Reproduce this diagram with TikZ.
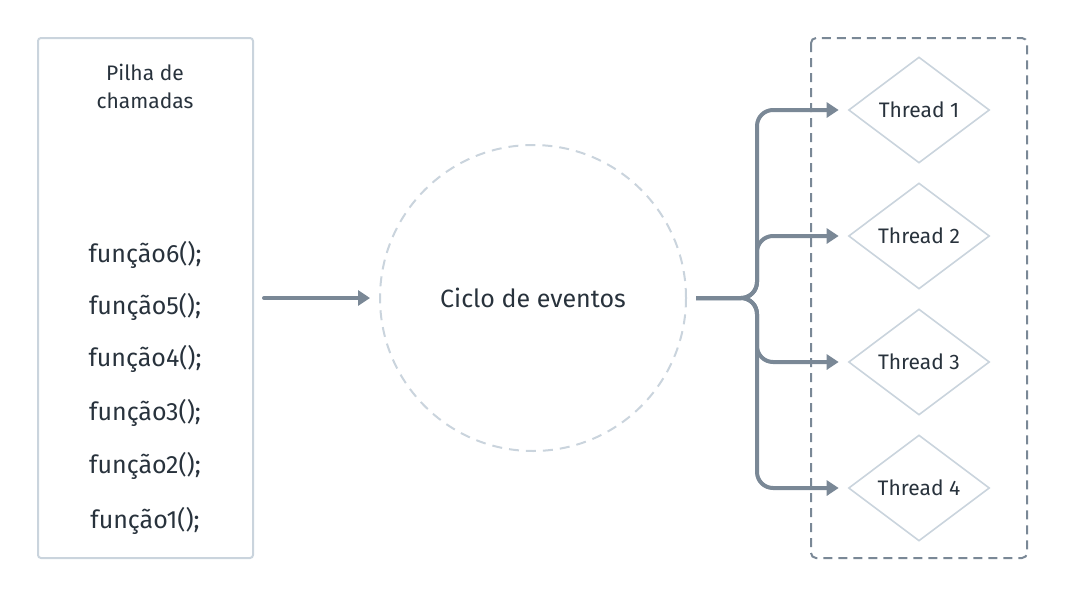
\documentclass[tikz,border=0pt]{standalone}
\usepackage{fontspec}
\setmainfont{Fira Sans}
\usetikzlibrary{shapes.geometric,arrows.meta}

\definecolor{seta}{RGB}{122,136,150}
\definecolor{claro}{RGB}{202,212,221}
\definecolor{texto}{RGB}{40,50,60}

\begin{document}
\begin{tikzpicture}[x=1pt, y=-1pt, every node/.style={text=texto},
    ramo/.style={draw=seta, line width=4pt, rounded corners=16pt, -{Triangle[length=12pt,width=15pt]}, shorten <=9pt, shorten >=9pt},
    losango/.style={diamond, draw=claro, line width=1.6pt, minimum width=141pt, minimum height=106pt, inner sep=0pt, font=\fontsize{21}{24}\selectfont},
    funcao/.style={font=\fontsize{25}{28}\selectfont}]

        \useasboundingbox (0,0) rectangle (1065,597);

        % Pilha de chamadas
        \draw[claro, line width=2pt, rounded corners=3pt] (38,38) rectangle (253,558);
        \node[align=center, font=\fontsize{21}{28}\selectfont] (pilha) at (145,86) {Pilha de\\chamadas};
        \node[funcao] (f6) at (145,255) {função6();};
        \node[funcao] (f5) at (145,307) {função5();};
        \node[funcao] (f4) at (145,359) {função4();};
        \node[funcao] (f3) at (145,413) {função3();};
        \node[funcao] (f2) at (145,466) {função2();};
        \node[funcao] (f1) at (145,521) {função1();};

        % Ciclo de eventos
        \node[circle, draw=claro, dashed, dash pattern=on 10pt off 7pt, line width=2pt, minimum size=306pt, font=\fontsize{25}{28}\selectfont] (ciclo) at (533,298) {Ciclo de eventos};
        \coordinate (ini) at (264,298);
        \draw[seta, line width=4pt, line cap=round, -{Triangle[length=12pt,width=15pt]}, shorten >=9pt] (ini) -- (ciclo.west);

        % Threads
        \draw[seta, line width=2pt, dashed, dash pattern=on 9pt off 6pt, rounded corners=5pt] (811,38) rectangle (1027,558);
        \node[losango] (t1) at (919,110) {Thread 1};
        \node[losango] (t2) at (919,236) {Thread 2};
        \node[losango] (t3) at (919,362) {Thread 3};
        \node[losango] (t4) at (919,488) {Thread 4};

        % Ramos
        \coordinate (garfo) at (757,298);
        \draw[ramo] (ciclo.east) -- (garfo) |- (t1.west);
        \draw[ramo] (ciclo.east) -- (garfo) |- (t2.west);
        \draw[ramo] (ciclo.east) -- (garfo) |- (t3.west);
        \draw[ramo] (ciclo.east) -- (garfo) |- (t4.west);
\end{tikzpicture}
\end{document}
